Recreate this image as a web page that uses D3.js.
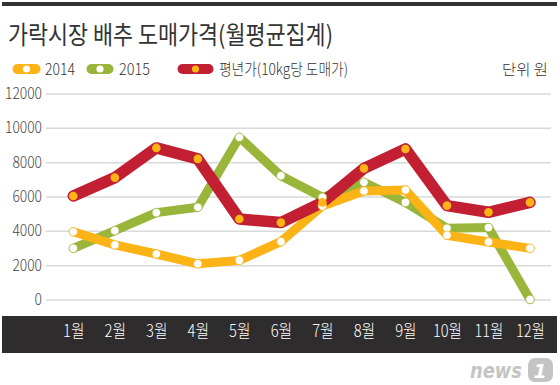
<!DOCTYPE html>
<html>
<head>
<meta charset="utf-8">
<script src="https://cdn.jsdelivr.net/npm/d3@7"></script>
<style>
body { margin: 0; background: #fff; }
svg text { font-family: "Noto Sans CJK KR", "Noto Sans", sans-serif; }
</style>
</head>
<body>
<div id="chart"></div>
<script>
// 데이터 (원)
var months = ['1월','2월','3월','4월','5월','6월','7월','8월','9월','10월','11월','12월'];
var yTicks = [0, 2000, 4000, 6000, 8000, 10000, 12000];
var price2014 = [3950, 3180, 2650, 2080, 2280, 3370, 5450, 6320, 6380, 3740, 3350, 2980];
var price2015 = [2980, 4010, 5060, 5370, 9450, 7210, 5950, 6830, 5660, 4150, 4190, 0];
var priceAvg  = [6030, 7100, 8830, 8190, 4690, 4480, 5660, 7640, 8770, 5470, 5080, 5660];

var WIDTH = 560, HEIGHT = 385;
var ORANGE = '#fbb316', GREEN = '#9ab63a', RED = '#c21f33';

var svg = d3.select('#chart')
	.append('svg')
	.attr('width', WIDTH)
	.attr('height', HEIGHT);

// 상단 굵은 선
svg.append('rect')
	.attr('x', 2).attr('y', 2)
	.attr('width', 555).attr('height', 4)
	.attr('fill', '#333');

// 제목
svg.append('text')
	.attr('x', 8).attr('y', 44)
	.attr('fill', '#333')
	.style('font-size', '25px')
	.style('font-weight', 400)
	.attr('textLength', 325)
	.attr('lengthAdjust', 'spacingAndGlyphs')
	.text('가락시장 배추 도매가격(월평균집계)');

// 범례
var legendData = [
	{ name: '2014', color: ORANGE, dot: '#fff', x0: 13, x1: 40, tx: 45, tw: 30 },
	{ name: '2015', color: GREEN, dot: '#fff', x0: 87, x1: 113, tx: 119, tw: 31 },
	{ name: '평년가(10kg당 도매가)', color: RED, dot: ORANGE, x0: 178, x1: 213, tx: 219, tw: 129 }
];
var legend = svg.append('g').attr('class', 'legend');
var item = legend.selectAll('g')
	.data(legendData)
	.enter()
	.append('g');
item.append('line')
	.attr('x1', function(d) { return d.x0 + 4.5; })
	.attr('x2', function(d) { return d.x1 - 4.5; })
	.attr('y1', 69).attr('y2', 69)
	.attr('stroke', function(d) { return d.color; })
	.attr('stroke-width', 10)
	.attr('stroke-linecap', 'round');
item.append('circle')
	.attr('cx', function(d) { return (d.x0 + d.x1) / 2; })
	.attr('cy', 69)
	.attr('r', 3.6)
	.attr('fill', function(d) { return d.dot; });
item.append('text')
	.attr('x', function(d) { return d.tx; })
	.attr('y', 75)
	.attr('fill', '#333')
	.style('font-size', '16px')
	.style('font-weight', 300)
	.attr('textLength', function(d) { return d.tw; })
	.attr('lengthAdjust', 'spacingAndGlyphs')
	.text(function(d) { return d.name; });
legend.append('text')
	.attr('x', 502).attr('y', 75)
	.attr('fill', '#333')
	.style('font-size', '15px')
	.style('font-weight', 300)
	.attr('textLength', 46)
	.attr('lengthAdjust', 'spacingAndGlyphs')
	.text('단위 원');

// 스케일
var xScale = d3.scalePoint().domain(months).range([73.3, 530]);
var yScale = d3.scaleLinear().domain([0, 12000]).range([299.5, 93.5]);

// Y축 + 격자
var yAxis = svg.append('g')
	.attr('transform', 'translate(46,0)')
	.call(d3.axisLeft(yScale).tickValues(yTicks).tickSize(-505).tickPadding(4).tickFormat(d3.format('d')));
yAxis.select('.domain').remove();
yAxis.selectAll('line').attr('stroke', '#d9d9d9').attr('stroke-width', 1.5);
yAxis.selectAll('text')
	.attr('fill', '#444')
	.style('font-size', '16px')
	.style('font-weight', 300)
	.attr('textLength', function(d) { return String(d).length * 7.4; })
	.attr('lengthAdjust', 'spacingAndGlyphs');

// 하단 월 띠
svg.append('rect')
	.attr('x', 2).attr('y', 316)
	.attr('width', 555).attr('height', 37)
	.attr('fill', '#2e2c2d');
var xAxis = svg.append('g')
	.attr('transform', 'translate(0,325)')
	.call(d3.axisBottom(xScale).tickSize(0).tickPadding(0));
xAxis.select('.domain').remove();
xAxis.selectAll('text')
	.attr('fill', '#fff')
	.style('font-size', '17px')
	.style('font-weight', 300)
	.attr('textLength', function(d) { return (d.length - 1) * 7.5 + 14; })
	.attr('lengthAdjust', 'spacingAndGlyphs');

// 선
var series = [
	{ values: price2015, color: GREEN, width: 9, fill: '#fff', stroke: GREEN },
	{ values: price2014, color: ORANGE, width: 9, fill: '#fff', stroke: ORANGE },
	{ values: priceAvg, color: RED, width: 11.5, fill: ORANGE, stroke: 'none' }
];
var line = d3.line()
	.x(function(d, i) { return xScale(months[i]); })
	.y(function(d) { return yScale(d); });

svg.selectAll('path.series')
	.data(series)
	.enter()
	.append('path')
	.attr('class', 'series')
	.attr('d', function(d) { return line(d.values); })
	.attr('fill', 'none')
	.attr('stroke', function(d) { return d.color; })
	.attr('stroke-width', function(d) { return d.width; })
	.attr('stroke-linejoin', 'round')
	.attr('stroke-linecap', 'round');

series.forEach(function(s) {
	svg.append('g')
		.selectAll('circle')
		.data(s.values)
		.enter()
		.append('circle')
		.attr('cx', function(d, i) { return xScale(months[i]); })
		.attr('cy', function(d) { return yScale(d); })
		.attr('r', 4.3)
		.attr('fill', s.fill)
		.attr('stroke', s.stroke)
		.attr('stroke-width', 0.8);
});

// news1 로고
var logo = svg.append('g').attr('fill', '#c4c4c4');
logo.append('text')
	.attr('x', 470).attr('y', 378)
	.style('font-family', '"DejaVu Sans"')
	.style('font-size', '22px')
	.style('font-weight', 'bold')
	.style('font-style', 'italic')
	.attr('textLength', 52)
	.attr('lengthAdjust', 'spacingAndGlyphs')
	.text('news');
logo.append('rect')
	.attr('x', 528).attr('y', 358)
	.attr('width', 25).attr('height', 24)
	.attr('rx', 7);
logo.append('text')
	.attr('x', 540).attr('y', 378)
	.attr('fill', '#fff')
	.attr('text-anchor', 'middle')
	.style('font-family', '"DejaVu Sans"')
	.style('font-size', '19px')
	.style('font-weight', 'bold')
	.style('font-style', 'italic')
	.text('1');
</script>
</body>
</html>
